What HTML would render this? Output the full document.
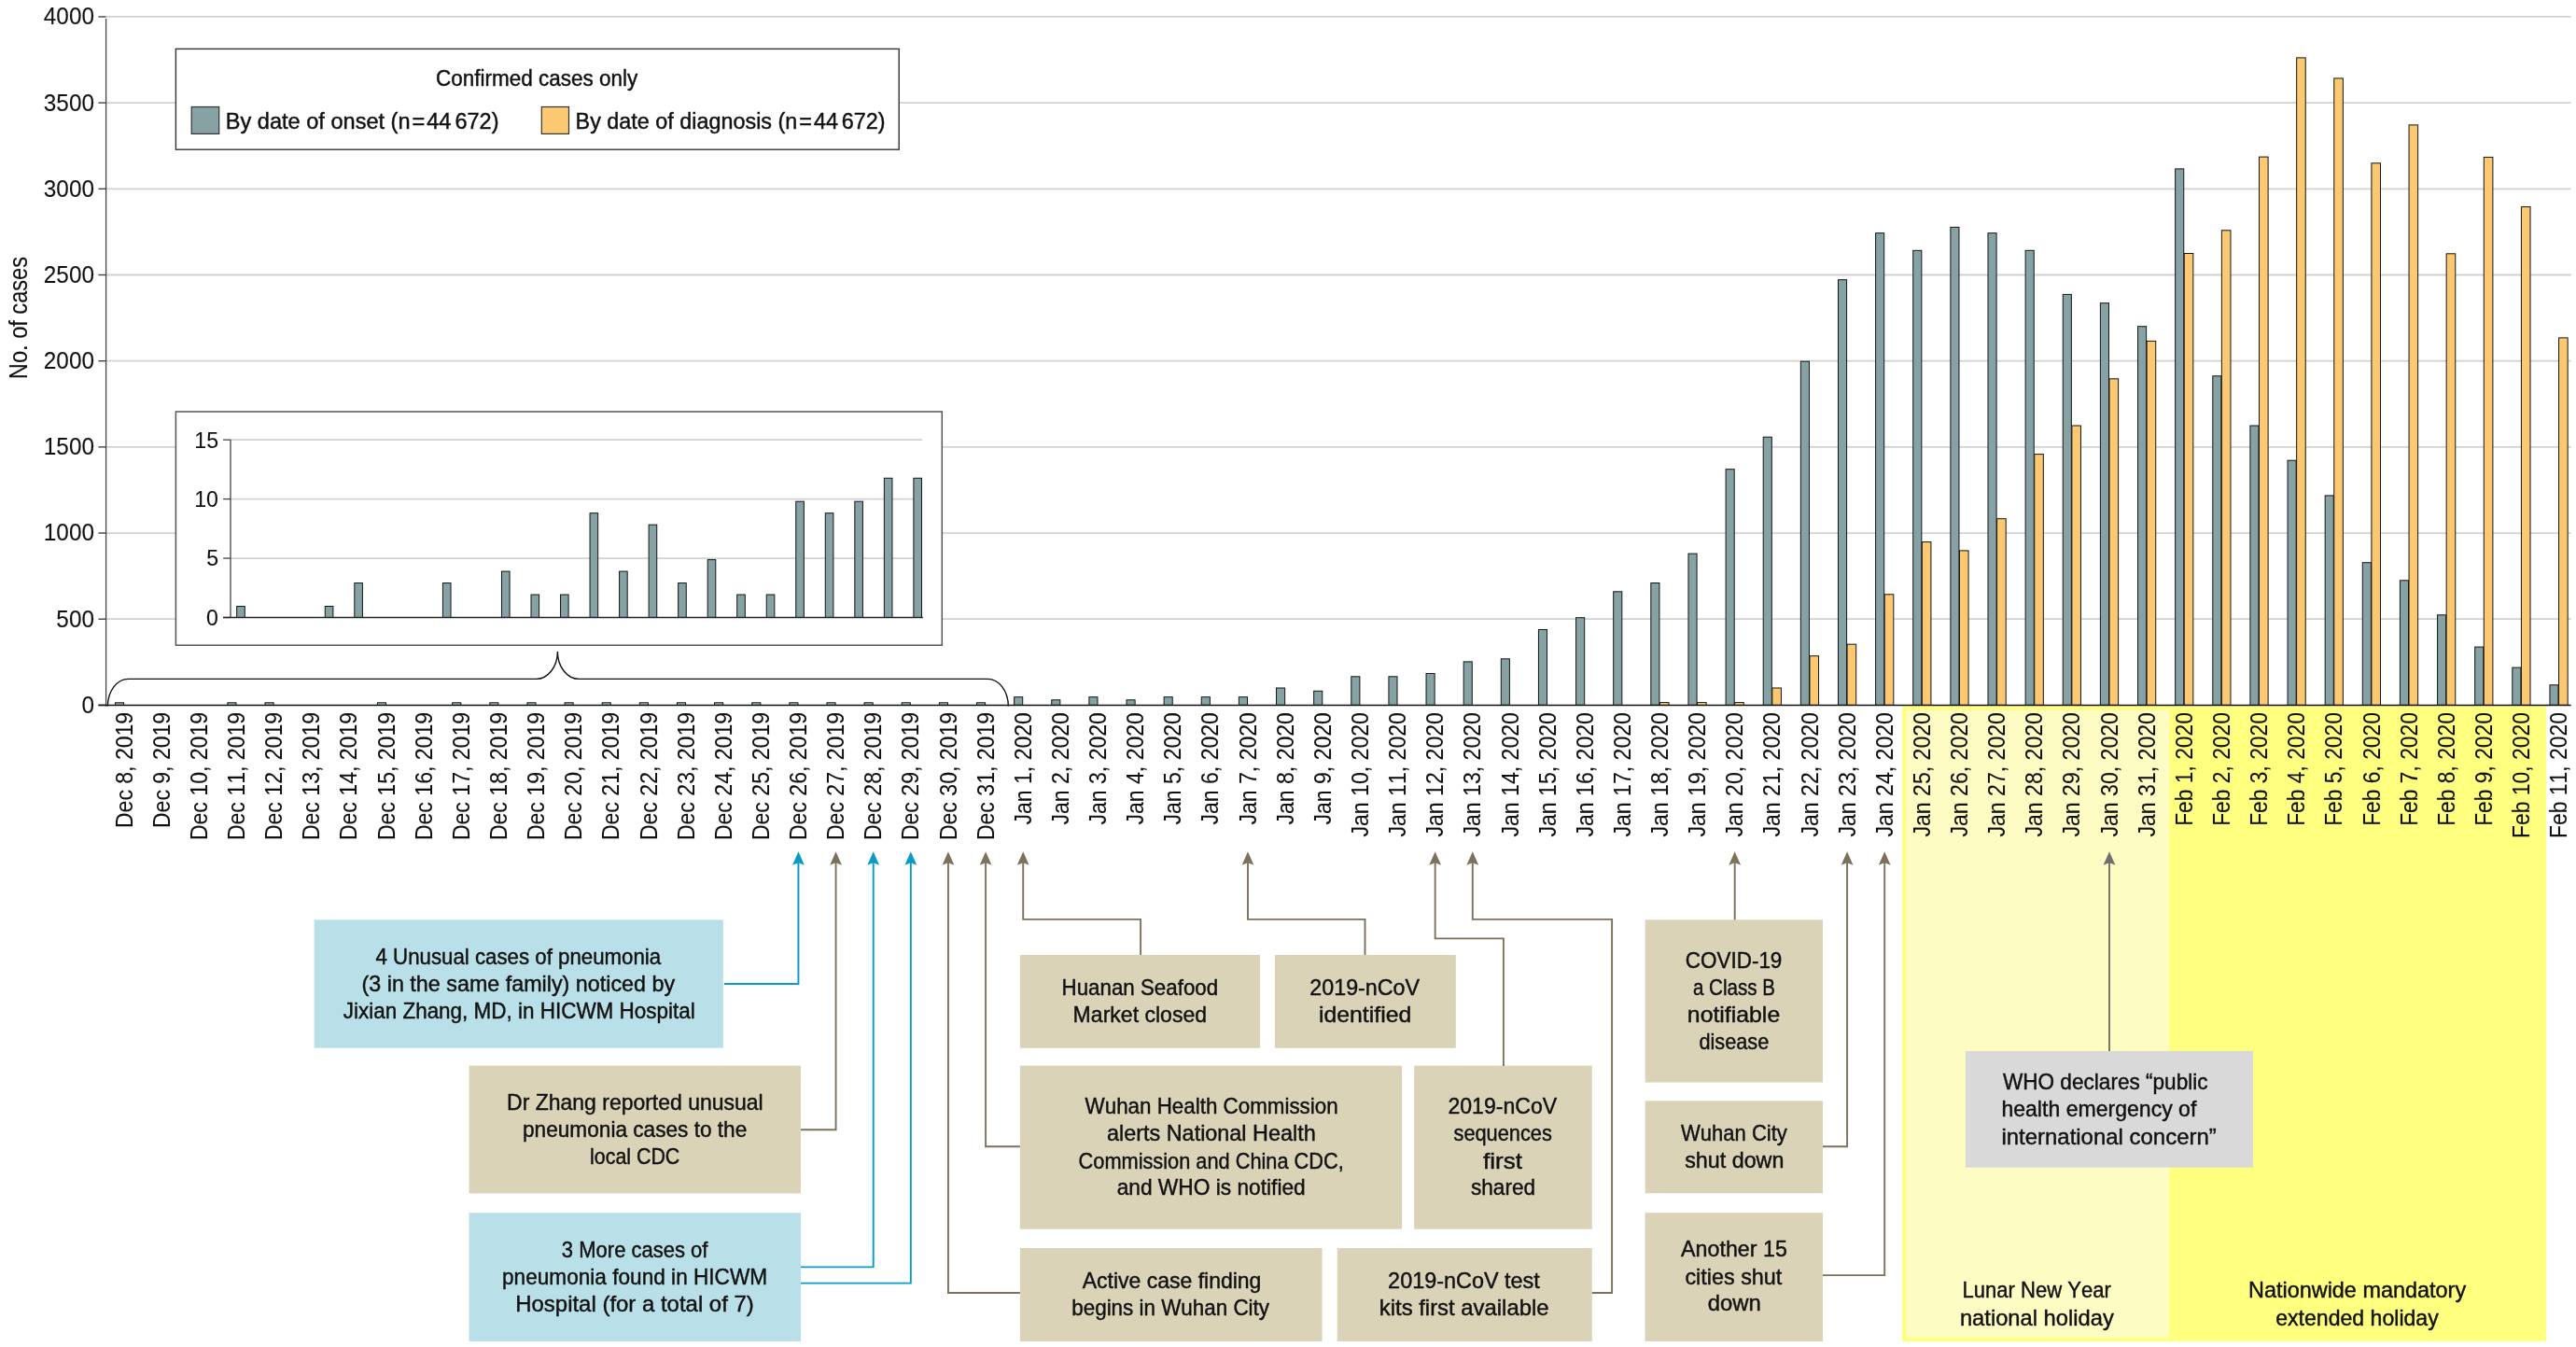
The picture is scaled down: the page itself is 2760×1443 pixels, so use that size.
<!DOCTYPE html><html><head><meta charset="utf-8"><style>html,body{margin:0;padding:0;background:#fff;width:2760px;height:1443px;overflow:hidden}svg{display:block}text{font-family:"Liberation Sans", sans-serif;font-kerning:none;white-space:pre;stroke:#111;stroke-width:0.45px}body{filter:grayscale(0.001)}</style></head><body>
<svg width="2760" height="1443" viewBox="0 0 2760 1443">
<rect x="2038.0" y="756.3" width="690.0" height="680.7" fill="#ffff80"/>
<rect x="2042.3" y="760.9" width="281.9" height="671.7" fill="#fdfcc3"/>
<line x1="113.6" y1="17.96" x2="2754.7" y2="17.96" stroke="#d2d2d2" stroke-width="1.8"/>
<line x1="105.4" y1="17.96" x2="113.6" y2="17.96" stroke="#444" stroke-width="1.4"/>
<text x="46.85" y="26.36" font-size="25.60" textLength="54.10" lengthAdjust="spacingAndGlyphs" fill="#111" style="stroke-width:0.1px">4000</text>
<line x1="113.6" y1="110.14" x2="2754.7" y2="110.14" stroke="#d2d2d2" stroke-width="1.8"/>
<line x1="105.4" y1="110.14" x2="113.6" y2="110.14" stroke="#444" stroke-width="1.4"/>
<text x="46.85" y="118.54" font-size="25.60" textLength="54.10" lengthAdjust="spacingAndGlyphs" fill="#111" style="stroke-width:0.1px">3500</text>
<line x1="113.6" y1="202.32" x2="2754.7" y2="202.32" stroke="#d2d2d2" stroke-width="1.8"/>
<line x1="105.4" y1="202.32" x2="113.6" y2="202.32" stroke="#444" stroke-width="1.4"/>
<text x="46.85" y="210.72" font-size="25.60" textLength="54.10" lengthAdjust="spacingAndGlyphs" fill="#111" style="stroke-width:0.1px">3000</text>
<line x1="113.6" y1="294.50" x2="2754.7" y2="294.50" stroke="#d2d2d2" stroke-width="1.8"/>
<line x1="105.4" y1="294.50" x2="113.6" y2="294.50" stroke="#444" stroke-width="1.4"/>
<text x="46.85" y="302.90" font-size="25.60" textLength="54.10" lengthAdjust="spacingAndGlyphs" fill="#111" style="stroke-width:0.1px">2500</text>
<line x1="113.6" y1="386.68" x2="2754.7" y2="386.68" stroke="#d2d2d2" stroke-width="1.8"/>
<line x1="105.4" y1="386.68" x2="113.6" y2="386.68" stroke="#444" stroke-width="1.4"/>
<text x="46.85" y="395.08" font-size="25.60" textLength="54.10" lengthAdjust="spacingAndGlyphs" fill="#111" style="stroke-width:0.1px">2000</text>
<line x1="113.6" y1="478.86" x2="2754.7" y2="478.86" stroke="#d2d2d2" stroke-width="1.8"/>
<line x1="105.4" y1="478.86" x2="113.6" y2="478.86" stroke="#444" stroke-width="1.4"/>
<text x="46.85" y="487.26" font-size="25.60" textLength="54.10" lengthAdjust="spacingAndGlyphs" fill="#111" style="stroke-width:0.1px">1500</text>
<line x1="113.6" y1="571.04" x2="2754.7" y2="571.04" stroke="#d2d2d2" stroke-width="1.8"/>
<line x1="105.4" y1="571.04" x2="113.6" y2="571.04" stroke="#444" stroke-width="1.4"/>
<text x="46.85" y="579.44" font-size="25.60" textLength="54.10" lengthAdjust="spacingAndGlyphs" fill="#111" style="stroke-width:0.1px">1000</text>
<line x1="113.6" y1="663.22" x2="2754.7" y2="663.22" stroke="#d2d2d2" stroke-width="1.8"/>
<line x1="105.4" y1="663.22" x2="113.6" y2="663.22" stroke="#444" stroke-width="1.4"/>
<text x="60.37" y="671.62" font-size="25.60" textLength="40.58" lengthAdjust="spacingAndGlyphs" fill="#111" style="stroke-width:0.1px">500</text>
<line x1="105.4" y1="755.4" x2="113.6" y2="755.4" stroke="#222" stroke-width="1.4"/>
<text x="87.42" y="763.80" font-size="25.60" textLength="13.53" lengthAdjust="spacingAndGlyphs" fill="#111" style="stroke-width:0.1px">0</text>
<text transform="translate(28.80,0) rotate(-90)" x="-406.13" y="0" font-size="27.20" textLength="131.09" lengthAdjust="spacingAndGlyphs" fill="#111" style="stroke-width:0.1px">No. of cases</text>
<rect x="123.50" y="752.80" width="9.10" height="2.60" fill="#a6c4c8" stroke="#151515" stroke-width="1"/>
<rect x="243.89" y="752.80" width="9.10" height="2.60" fill="#a6c4c8" stroke="#151515" stroke-width="1"/>
<rect x="284.02" y="752.80" width="9.10" height="2.60" fill="#a6c4c8" stroke="#151515" stroke-width="1"/>
<rect x="404.41" y="752.80" width="9.10" height="2.60" fill="#a6c4c8" stroke="#151515" stroke-width="1"/>
<rect x="484.67" y="752.80" width="9.10" height="2.60" fill="#a6c4c8" stroke="#151515" stroke-width="1"/>
<rect x="524.80" y="752.80" width="9.10" height="2.60" fill="#a6c4c8" stroke="#151515" stroke-width="1"/>
<rect x="564.93" y="752.80" width="9.10" height="2.60" fill="#a6c4c8" stroke="#151515" stroke-width="1"/>
<rect x="605.06" y="752.80" width="9.10" height="2.60" fill="#a6c4c8" stroke="#151515" stroke-width="1"/>
<rect x="645.19" y="752.80" width="9.10" height="2.60" fill="#a6c4c8" stroke="#151515" stroke-width="1"/>
<rect x="685.32" y="752.80" width="9.10" height="2.60" fill="#a6c4c8" stroke="#151515" stroke-width="1"/>
<rect x="725.45" y="752.80" width="9.10" height="2.60" fill="#a6c4c8" stroke="#151515" stroke-width="1"/>
<rect x="765.58" y="752.80" width="9.10" height="2.60" fill="#a6c4c8" stroke="#151515" stroke-width="1"/>
<rect x="805.71" y="752.80" width="9.10" height="2.60" fill="#a6c4c8" stroke="#151515" stroke-width="1"/>
<rect x="845.84" y="752.80" width="9.10" height="2.60" fill="#a6c4c8" stroke="#151515" stroke-width="1"/>
<rect x="885.97" y="752.80" width="9.10" height="2.60" fill="#a6c4c8" stroke="#151515" stroke-width="1"/>
<rect x="926.10" y="752.80" width="9.10" height="2.60" fill="#a6c4c8" stroke="#151515" stroke-width="1"/>
<rect x="966.23" y="752.80" width="9.10" height="2.60" fill="#a6c4c8" stroke="#151515" stroke-width="1"/>
<rect x="1006.36" y="752.80" width="9.10" height="2.60" fill="#a6c4c8" stroke="#151515" stroke-width="1"/>
<rect x="1046.49" y="752.80" width="9.10" height="2.60" fill="#a6c4c8" stroke="#151515" stroke-width="1"/>
<rect x="1086.62" y="746.70" width="9.10" height="8.70" fill="#86a2a5" stroke="#151515" stroke-width="1"/>
<rect x="1126.75" y="749.80" width="9.10" height="5.60" fill="#86a2a5" stroke="#151515" stroke-width="1"/>
<rect x="1166.88" y="746.70" width="9.10" height="8.70" fill="#86a2a5" stroke="#151515" stroke-width="1"/>
<rect x="1207.01" y="749.80" width="9.10" height="5.60" fill="#86a2a5" stroke="#151515" stroke-width="1"/>
<rect x="1247.14" y="746.70" width="9.10" height="8.70" fill="#86a2a5" stroke="#151515" stroke-width="1"/>
<rect x="1287.27" y="746.70" width="9.10" height="8.70" fill="#86a2a5" stroke="#151515" stroke-width="1"/>
<rect x="1327.40" y="746.70" width="9.10" height="8.70" fill="#86a2a5" stroke="#151515" stroke-width="1"/>
<rect x="1367.53" y="737.00" width="9.10" height="18.40" fill="#86a2a5" stroke="#151515" stroke-width="1"/>
<rect x="1407.66" y="740.30" width="9.10" height="15.10" fill="#86a2a5" stroke="#151515" stroke-width="1"/>
<rect x="1447.79" y="724.80" width="9.10" height="30.60" fill="#86a2a5" stroke="#151515" stroke-width="1"/>
<rect x="1487.92" y="724.80" width="9.10" height="30.60" fill="#86a2a5" stroke="#151515" stroke-width="1"/>
<rect x="1528.05" y="721.50" width="9.10" height="33.90" fill="#86a2a5" stroke="#151515" stroke-width="1"/>
<rect x="1568.18" y="708.90" width="9.10" height="46.50" fill="#86a2a5" stroke="#151515" stroke-width="1"/>
<rect x="1608.31" y="705.80" width="9.10" height="49.60" fill="#86a2a5" stroke="#151515" stroke-width="1"/>
<rect x="1648.44" y="674.50" width="9.10" height="80.90" fill="#86a2a5" stroke="#151515" stroke-width="1"/>
<rect x="1688.57" y="661.70" width="9.10" height="93.70" fill="#86a2a5" stroke="#151515" stroke-width="1"/>
<rect x="1728.70" y="633.80" width="9.10" height="121.60" fill="#86a2a5" stroke="#151515" stroke-width="1"/>
<rect x="1768.83" y="624.50" width="9.10" height="130.90" fill="#86a2a5" stroke="#151515" stroke-width="1"/>
<rect x="1778.43" y="752.60" width="9.60" height="2.80" fill="#ffdc8c" stroke="#151515" stroke-width="1"/>
<rect x="1808.96" y="593.10" width="9.10" height="162.30" fill="#86a2a5" stroke="#151515" stroke-width="1"/>
<rect x="1818.56" y="752.60" width="9.60" height="2.80" fill="#ffdc8c" stroke="#151515" stroke-width="1"/>
<rect x="1849.09" y="502.70" width="9.10" height="252.70" fill="#86a2a5" stroke="#151515" stroke-width="1"/>
<rect x="1858.69" y="752.60" width="9.60" height="2.80" fill="#ffdc8c" stroke="#151515" stroke-width="1"/>
<rect x="1889.22" y="468.20" width="9.10" height="287.20" fill="#86a2a5" stroke="#151515" stroke-width="1"/>
<rect x="1898.82" y="737.00" width="9.60" height="18.40" fill="#fdc872" stroke="#151515" stroke-width="1"/>
<rect x="1929.35" y="387.20" width="9.10" height="368.20" fill="#86a2a5" stroke="#151515" stroke-width="1"/>
<rect x="1938.95" y="702.70" width="9.60" height="52.70" fill="#fdc872" stroke="#151515" stroke-width="1"/>
<rect x="1969.48" y="299.70" width="9.10" height="455.70" fill="#86a2a5" stroke="#151515" stroke-width="1"/>
<rect x="1979.08" y="690.20" width="9.60" height="65.20" fill="#fdc872" stroke="#151515" stroke-width="1"/>
<rect x="2009.61" y="249.70" width="9.10" height="505.70" fill="#86a2a5" stroke="#151515" stroke-width="1"/>
<rect x="2019.21" y="636.80" width="9.60" height="118.60" fill="#fdc872" stroke="#151515" stroke-width="1"/>
<rect x="2049.74" y="268.30" width="9.10" height="487.10" fill="#86a2a5" stroke="#151515" stroke-width="1"/>
<rect x="2059.34" y="580.60" width="9.60" height="174.80" fill="#fdc872" stroke="#151515" stroke-width="1"/>
<rect x="2089.87" y="243.40" width="9.10" height="512.00" fill="#86a2a5" stroke="#151515" stroke-width="1"/>
<rect x="2099.47" y="589.90" width="9.60" height="165.50" fill="#fdc872" stroke="#151515" stroke-width="1"/>
<rect x="2130.00" y="249.70" width="9.10" height="505.70" fill="#86a2a5" stroke="#151515" stroke-width="1"/>
<rect x="2139.60" y="555.70" width="9.60" height="199.70" fill="#fdc872" stroke="#151515" stroke-width="1"/>
<rect x="2170.13" y="268.30" width="9.10" height="487.10" fill="#86a2a5" stroke="#151515" stroke-width="1"/>
<rect x="2179.73" y="486.60" width="9.60" height="268.80" fill="#fdc872" stroke="#151515" stroke-width="1"/>
<rect x="2210.26" y="315.40" width="9.10" height="440.00" fill="#86a2a5" stroke="#151515" stroke-width="1"/>
<rect x="2219.86" y="456.00" width="9.60" height="299.40" fill="#fdc872" stroke="#151515" stroke-width="1"/>
<rect x="2250.39" y="324.70" width="9.10" height="430.70" fill="#86a2a5" stroke="#151515" stroke-width="1"/>
<rect x="2259.99" y="405.80" width="9.60" height="349.60" fill="#fdc872" stroke="#151515" stroke-width="1"/>
<rect x="2290.52" y="349.70" width="9.10" height="405.70" fill="#86a2a5" stroke="#151515" stroke-width="1"/>
<rect x="2300.12" y="365.40" width="9.60" height="390.00" fill="#fdc872" stroke="#151515" stroke-width="1"/>
<rect x="2330.65" y="180.90" width="9.10" height="574.50" fill="#86a2a5" stroke="#151515" stroke-width="1"/>
<rect x="2340.25" y="271.50" width="9.60" height="483.90" fill="#fdc872" stroke="#151515" stroke-width="1"/>
<rect x="2370.78" y="402.80" width="9.10" height="352.60" fill="#86a2a5" stroke="#151515" stroke-width="1"/>
<rect x="2380.38" y="246.80" width="9.60" height="508.60" fill="#fdc872" stroke="#151515" stroke-width="1"/>
<rect x="2410.91" y="456.00" width="9.10" height="299.40" fill="#86a2a5" stroke="#151515" stroke-width="1"/>
<rect x="2420.51" y="168.10" width="9.60" height="587.30" fill="#fdc872" stroke="#151515" stroke-width="1"/>
<rect x="2451.04" y="493.20" width="9.10" height="262.20" fill="#86a2a5" stroke="#151515" stroke-width="1"/>
<rect x="2460.64" y="61.90" width="9.60" height="693.50" fill="#fdc872" stroke="#151515" stroke-width="1"/>
<rect x="2491.17" y="530.90" width="9.10" height="224.50" fill="#86a2a5" stroke="#151515" stroke-width="1"/>
<rect x="2500.77" y="83.90" width="9.60" height="671.50" fill="#fdc872" stroke="#151515" stroke-width="1"/>
<rect x="2531.30" y="602.70" width="9.10" height="152.70" fill="#86a2a5" stroke="#151515" stroke-width="1"/>
<rect x="2540.90" y="174.80" width="9.60" height="580.60" fill="#fdc872" stroke="#151515" stroke-width="1"/>
<rect x="2571.43" y="621.80" width="9.10" height="133.60" fill="#86a2a5" stroke="#151515" stroke-width="1"/>
<rect x="2581.03" y="133.90" width="9.60" height="621.50" fill="#fdc872" stroke="#151515" stroke-width="1"/>
<rect x="2611.56" y="658.80" width="9.10" height="96.60" fill="#86a2a5" stroke="#151515" stroke-width="1"/>
<rect x="2621.16" y="271.80" width="9.60" height="483.60" fill="#fdc872" stroke="#151515" stroke-width="1"/>
<rect x="2651.69" y="693.10" width="9.10" height="62.30" fill="#86a2a5" stroke="#151515" stroke-width="1"/>
<rect x="2661.29" y="168.40" width="9.60" height="587.00" fill="#fdc872" stroke="#151515" stroke-width="1"/>
<rect x="2691.82" y="715.10" width="9.10" height="40.30" fill="#86a2a5" stroke="#151515" stroke-width="1"/>
<rect x="2701.42" y="221.60" width="9.60" height="533.80" fill="#fdc872" stroke="#151515" stroke-width="1"/>
<rect x="2731.95" y="733.80" width="9.10" height="21.60" fill="#86a2a5" stroke="#151515" stroke-width="1"/>
<rect x="2741.55" y="361.90" width="9.60" height="393.50" fill="#fdc872" stroke="#151515" stroke-width="1"/>
<line x1="113.6" y1="20" x2="113.6" y2="756.4" stroke="#444" stroke-width="1.3"/>
<line x1="105.6" y1="755.4" x2="2754.6" y2="755.4" stroke="#111" stroke-width="1.5"/>
<text transform="translate(141.70,0) rotate(-90)" x="-887.04" y="0" font-size="26.00" textLength="124.13" lengthAdjust="spacingAndGlyphs" fill="#111" style="stroke-width:0.1px">Dec 8, 2019</text>
<text transform="translate(181.83,0) rotate(-90)" x="-887.04" y="0" font-size="26.00" textLength="124.13" lengthAdjust="spacingAndGlyphs" fill="#111" style="stroke-width:0.1px">Dec 9, 2019</text>
<text transform="translate(221.96,0) rotate(-90)" x="-900.11" y="0" font-size="26.00" textLength="137.20" lengthAdjust="spacingAndGlyphs" fill="#111" style="stroke-width:0.1px">Dec 10, 2019</text>
<text transform="translate(262.09,0) rotate(-90)" x="-900.11" y="0" font-size="26.00" textLength="137.20" lengthAdjust="spacingAndGlyphs" fill="#111" style="stroke-width:0.1px">Dec 11, 2019</text>
<text transform="translate(302.22,0) rotate(-90)" x="-900.11" y="0" font-size="26.00" textLength="137.20" lengthAdjust="spacingAndGlyphs" fill="#111" style="stroke-width:0.1px">Dec 12, 2019</text>
<text transform="translate(342.35,0) rotate(-90)" x="-900.11" y="0" font-size="26.00" textLength="137.20" lengthAdjust="spacingAndGlyphs" fill="#111" style="stroke-width:0.1px">Dec 13, 2019</text>
<text transform="translate(382.48,0) rotate(-90)" x="-900.11" y="0" font-size="26.00" textLength="137.20" lengthAdjust="spacingAndGlyphs" fill="#111" style="stroke-width:0.1px">Dec 14, 2019</text>
<text transform="translate(422.61,0) rotate(-90)" x="-900.11" y="0" font-size="26.00" textLength="137.20" lengthAdjust="spacingAndGlyphs" fill="#111" style="stroke-width:0.1px">Dec 15, 2019</text>
<text transform="translate(462.74,0) rotate(-90)" x="-900.11" y="0" font-size="26.00" textLength="137.20" lengthAdjust="spacingAndGlyphs" fill="#111" style="stroke-width:0.1px">Dec 16, 2019</text>
<text transform="translate(502.87,0) rotate(-90)" x="-900.11" y="0" font-size="26.00" textLength="137.20" lengthAdjust="spacingAndGlyphs" fill="#111" style="stroke-width:0.1px">Dec 17, 2019</text>
<text transform="translate(543.00,0) rotate(-90)" x="-900.11" y="0" font-size="26.00" textLength="137.20" lengthAdjust="spacingAndGlyphs" fill="#111" style="stroke-width:0.1px">Dec 18, 2019</text>
<text transform="translate(583.13,0) rotate(-90)" x="-900.11" y="0" font-size="26.00" textLength="137.20" lengthAdjust="spacingAndGlyphs" fill="#111" style="stroke-width:0.1px">Dec 19, 2019</text>
<text transform="translate(623.26,0) rotate(-90)" x="-900.11" y="0" font-size="26.00" textLength="137.20" lengthAdjust="spacingAndGlyphs" fill="#111" style="stroke-width:0.1px">Dec 20, 2019</text>
<text transform="translate(663.39,0) rotate(-90)" x="-900.11" y="0" font-size="26.00" textLength="137.20" lengthAdjust="spacingAndGlyphs" fill="#111" style="stroke-width:0.1px">Dec 21, 2019</text>
<text transform="translate(703.52,0) rotate(-90)" x="-900.11" y="0" font-size="26.00" textLength="137.20" lengthAdjust="spacingAndGlyphs" fill="#111" style="stroke-width:0.1px">Dec 22, 2019</text>
<text transform="translate(743.65,0) rotate(-90)" x="-900.11" y="0" font-size="26.00" textLength="137.20" lengthAdjust="spacingAndGlyphs" fill="#111" style="stroke-width:0.1px">Dec 23, 2019</text>
<text transform="translate(783.78,0) rotate(-90)" x="-900.11" y="0" font-size="26.00" textLength="137.20" lengthAdjust="spacingAndGlyphs" fill="#111" style="stroke-width:0.1px">Dec 24, 2019</text>
<text transform="translate(823.91,0) rotate(-90)" x="-900.11" y="0" font-size="26.00" textLength="137.20" lengthAdjust="spacingAndGlyphs" fill="#111" style="stroke-width:0.1px">Dec 25, 2019</text>
<text transform="translate(864.04,0) rotate(-90)" x="-900.11" y="0" font-size="26.00" textLength="137.20" lengthAdjust="spacingAndGlyphs" fill="#111" style="stroke-width:0.1px">Dec 26, 2019</text>
<text transform="translate(904.17,0) rotate(-90)" x="-900.11" y="0" font-size="26.00" textLength="137.20" lengthAdjust="spacingAndGlyphs" fill="#111" style="stroke-width:0.1px">Dec 27, 2019</text>
<text transform="translate(944.30,0) rotate(-90)" x="-900.11" y="0" font-size="26.00" textLength="137.20" lengthAdjust="spacingAndGlyphs" fill="#111" style="stroke-width:0.1px">Dec 28, 2019</text>
<text transform="translate(984.43,0) rotate(-90)" x="-900.11" y="0" font-size="26.00" textLength="137.20" lengthAdjust="spacingAndGlyphs" fill="#111" style="stroke-width:0.1px">Dec 29, 2019</text>
<text transform="translate(1024.56,0) rotate(-90)" x="-900.11" y="0" font-size="26.00" textLength="137.20" lengthAdjust="spacingAndGlyphs" fill="#111" style="stroke-width:0.1px">Dec 30, 2019</text>
<text transform="translate(1064.69,0) rotate(-90)" x="-900.11" y="0" font-size="26.00" textLength="137.20" lengthAdjust="spacingAndGlyphs" fill="#111" style="stroke-width:0.1px">Dec 31, 2019</text>
<text transform="translate(1104.82,0) rotate(-90)" x="-883.49" y="0" font-size="26.00" textLength="120.39" lengthAdjust="spacingAndGlyphs" fill="#111" style="stroke-width:0.1px">Jan 1, 2020</text>
<text transform="translate(1144.95,0) rotate(-90)" x="-883.49" y="0" font-size="26.00" textLength="120.39" lengthAdjust="spacingAndGlyphs" fill="#111" style="stroke-width:0.1px">Jan 2, 2020</text>
<text transform="translate(1185.08,0) rotate(-90)" x="-883.49" y="0" font-size="26.00" textLength="120.39" lengthAdjust="spacingAndGlyphs" fill="#111" style="stroke-width:0.1px">Jan 3, 2020</text>
<text transform="translate(1225.21,0) rotate(-90)" x="-883.49" y="0" font-size="26.00" textLength="120.39" lengthAdjust="spacingAndGlyphs" fill="#111" style="stroke-width:0.1px">Jan 4, 2020</text>
<text transform="translate(1265.34,0) rotate(-90)" x="-883.49" y="0" font-size="26.00" textLength="120.39" lengthAdjust="spacingAndGlyphs" fill="#111" style="stroke-width:0.1px">Jan 5, 2020</text>
<text transform="translate(1305.47,0) rotate(-90)" x="-883.49" y="0" font-size="26.00" textLength="120.39" lengthAdjust="spacingAndGlyphs" fill="#111" style="stroke-width:0.1px">Jan 6, 2020</text>
<text transform="translate(1345.60,0) rotate(-90)" x="-883.49" y="0" font-size="26.00" textLength="120.39" lengthAdjust="spacingAndGlyphs" fill="#111" style="stroke-width:0.1px">Jan 7, 2020</text>
<text transform="translate(1385.73,0) rotate(-90)" x="-883.49" y="0" font-size="26.00" textLength="120.39" lengthAdjust="spacingAndGlyphs" fill="#111" style="stroke-width:0.1px">Jan 8, 2020</text>
<text transform="translate(1425.86,0) rotate(-90)" x="-883.49" y="0" font-size="26.00" textLength="120.39" lengthAdjust="spacingAndGlyphs" fill="#111" style="stroke-width:0.1px">Jan 9, 2020</text>
<text transform="translate(1465.99,0) rotate(-90)" x="-896.56" y="0" font-size="26.00" textLength="133.46" lengthAdjust="spacingAndGlyphs" fill="#111" style="stroke-width:0.1px">Jan 10, 2020</text>
<text transform="translate(1506.12,0) rotate(-90)" x="-896.56" y="0" font-size="26.00" textLength="133.46" lengthAdjust="spacingAndGlyphs" fill="#111" style="stroke-width:0.1px">Jan 11, 2020</text>
<text transform="translate(1546.25,0) rotate(-90)" x="-896.56" y="0" font-size="26.00" textLength="133.46" lengthAdjust="spacingAndGlyphs" fill="#111" style="stroke-width:0.1px">Jan 12, 2020</text>
<text transform="translate(1586.38,0) rotate(-90)" x="-896.56" y="0" font-size="26.00" textLength="133.46" lengthAdjust="spacingAndGlyphs" fill="#111" style="stroke-width:0.1px">Jan 13, 2020</text>
<text transform="translate(1626.51,0) rotate(-90)" x="-896.56" y="0" font-size="26.00" textLength="133.46" lengthAdjust="spacingAndGlyphs" fill="#111" style="stroke-width:0.1px">Jan 14, 2020</text>
<text transform="translate(1666.64,0) rotate(-90)" x="-896.56" y="0" font-size="26.00" textLength="133.46" lengthAdjust="spacingAndGlyphs" fill="#111" style="stroke-width:0.1px">Jan 15, 2020</text>
<text transform="translate(1706.77,0) rotate(-90)" x="-896.56" y="0" font-size="26.00" textLength="133.46" lengthAdjust="spacingAndGlyphs" fill="#111" style="stroke-width:0.1px">Jan 16, 2020</text>
<text transform="translate(1746.90,0) rotate(-90)" x="-896.56" y="0" font-size="26.00" textLength="133.46" lengthAdjust="spacingAndGlyphs" fill="#111" style="stroke-width:0.1px">Jan 17, 2020</text>
<text transform="translate(1787.03,0) rotate(-90)" x="-896.56" y="0" font-size="26.00" textLength="133.46" lengthAdjust="spacingAndGlyphs" fill="#111" style="stroke-width:0.1px">Jan 18, 2020</text>
<text transform="translate(1827.16,0) rotate(-90)" x="-896.56" y="0" font-size="26.00" textLength="133.46" lengthAdjust="spacingAndGlyphs" fill="#111" style="stroke-width:0.1px">Jan 19, 2020</text>
<text transform="translate(1867.29,0) rotate(-90)" x="-896.56" y="0" font-size="26.00" textLength="133.46" lengthAdjust="spacingAndGlyphs" fill="#111" style="stroke-width:0.1px">Jan 20, 2020</text>
<text transform="translate(1907.42,0) rotate(-90)" x="-896.56" y="0" font-size="26.00" textLength="133.46" lengthAdjust="spacingAndGlyphs" fill="#111" style="stroke-width:0.1px">Jan 21, 2020</text>
<text transform="translate(1947.55,0) rotate(-90)" x="-896.56" y="0" font-size="26.00" textLength="133.46" lengthAdjust="spacingAndGlyphs" fill="#111" style="stroke-width:0.1px">Jan 22, 2020</text>
<text transform="translate(1987.68,0) rotate(-90)" x="-896.56" y="0" font-size="26.00" textLength="133.46" lengthAdjust="spacingAndGlyphs" fill="#111" style="stroke-width:0.1px">Jan 23, 2020</text>
<text transform="translate(2027.81,0) rotate(-90)" x="-896.56" y="0" font-size="26.00" textLength="133.46" lengthAdjust="spacingAndGlyphs" fill="#111" style="stroke-width:0.1px">Jan 24, 2020</text>
<text transform="translate(2067.94,0) rotate(-90)" x="-896.56" y="0" font-size="26.00" textLength="133.46" lengthAdjust="spacingAndGlyphs" fill="#111" style="stroke-width:0.1px">Jan 25, 2020</text>
<text transform="translate(2108.07,0) rotate(-90)" x="-896.56" y="0" font-size="26.00" textLength="133.46" lengthAdjust="spacingAndGlyphs" fill="#111" style="stroke-width:0.1px">Jan 26, 2020</text>
<text transform="translate(2148.20,0) rotate(-90)" x="-896.56" y="0" font-size="26.00" textLength="133.46" lengthAdjust="spacingAndGlyphs" fill="#111" style="stroke-width:0.1px">Jan 27, 2020</text>
<text transform="translate(2188.33,0) rotate(-90)" x="-896.56" y="0" font-size="26.00" textLength="133.46" lengthAdjust="spacingAndGlyphs" fill="#111" style="stroke-width:0.1px">Jan 28, 2020</text>
<text transform="translate(2228.46,0) rotate(-90)" x="-896.56" y="0" font-size="26.00" textLength="133.46" lengthAdjust="spacingAndGlyphs" fill="#111" style="stroke-width:0.1px">Jan 29, 2020</text>
<text transform="translate(2268.59,0) rotate(-90)" x="-896.56" y="0" font-size="26.00" textLength="133.46" lengthAdjust="spacingAndGlyphs" fill="#111" style="stroke-width:0.1px">Jan 30, 2020</text>
<text transform="translate(2308.72,0) rotate(-90)" x="-896.56" y="0" font-size="26.00" textLength="133.46" lengthAdjust="spacingAndGlyphs" fill="#111" style="stroke-width:0.1px">Jan 31, 2020</text>
<text transform="translate(2348.85,0) rotate(-90)" x="-884.85" y="0" font-size="26.00" textLength="121.74" lengthAdjust="spacingAndGlyphs" fill="#111" style="stroke-width:0.1px">Feb 1, 2020</text>
<text transform="translate(2388.98,0) rotate(-90)" x="-884.85" y="0" font-size="26.00" textLength="121.74" lengthAdjust="spacingAndGlyphs" fill="#111" style="stroke-width:0.1px">Feb 2, 2020</text>
<text transform="translate(2429.11,0) rotate(-90)" x="-884.85" y="0" font-size="26.00" textLength="121.74" lengthAdjust="spacingAndGlyphs" fill="#111" style="stroke-width:0.1px">Feb 3, 2020</text>
<text transform="translate(2469.24,0) rotate(-90)" x="-884.85" y="0" font-size="26.00" textLength="121.74" lengthAdjust="spacingAndGlyphs" fill="#111" style="stroke-width:0.1px">Feb 4, 2020</text>
<text transform="translate(2509.37,0) rotate(-90)" x="-884.85" y="0" font-size="26.00" textLength="121.74" lengthAdjust="spacingAndGlyphs" fill="#111" style="stroke-width:0.1px">Feb 5, 2020</text>
<text transform="translate(2549.50,0) rotate(-90)" x="-884.85" y="0" font-size="26.00" textLength="121.74" lengthAdjust="spacingAndGlyphs" fill="#111" style="stroke-width:0.1px">Feb 6, 2020</text>
<text transform="translate(2589.63,0) rotate(-90)" x="-884.85" y="0" font-size="26.00" textLength="121.74" lengthAdjust="spacingAndGlyphs" fill="#111" style="stroke-width:0.1px">Feb 7, 2020</text>
<text transform="translate(2629.76,0) rotate(-90)" x="-884.85" y="0" font-size="26.00" textLength="121.74" lengthAdjust="spacingAndGlyphs" fill="#111" style="stroke-width:0.1px">Feb 8, 2020</text>
<text transform="translate(2669.89,0) rotate(-90)" x="-884.85" y="0" font-size="26.00" textLength="121.74" lengthAdjust="spacingAndGlyphs" fill="#111" style="stroke-width:0.1px">Feb 9, 2020</text>
<text transform="translate(2710.02,0) rotate(-90)" x="-897.92" y="0" font-size="26.00" textLength="134.81" lengthAdjust="spacingAndGlyphs" fill="#111" style="stroke-width:0.1px">Feb 10, 2020</text>
<text transform="translate(2750.15,0) rotate(-90)" x="-897.92" y="0" font-size="26.00" textLength="134.81" lengthAdjust="spacingAndGlyphs" fill="#111" style="stroke-width:0.1px">Feb 11, 2020</text>
<path d="M115.4,756.6 A22.1,29.2 0 0 1 137.5,727.4 H574.5 A23,29.5 0 0 0 597.4,697.9 A23,29.5 0 0 0 620.3,727.4 H1058.2 A22.1,29.2 0 0 1 1080.3,756.6" fill="none" stroke="#111" stroke-width="1.4"/>
<rect x="188.4" y="52.4" width="774.8" height="107.8" fill="#fff" stroke="#333" stroke-width="1.4"/>
<text x="467.06" y="91.90" font-size="24.70" textLength="216.09" lengthAdjust="spacingAndGlyphs" fill="#111">Confirmed cases only</text>
<rect x="205.2" y="114.5" width="29.5" height="28.9" fill="#86a2a5" stroke="#333" stroke-width="1.2"/>
<text x="241.77" y="137.80" font-size="24.70" textLength="292.79" lengthAdjust="spacingAndGlyphs" fill="#111">By date of onset (n = 44 672)</text>
<rect x="580.3" y="114.5" width="29.2" height="28.9" fill="#fdc872" stroke="#333" stroke-width="1.2"/>
<text x="616.58" y="137.80" font-size="24.70" textLength="331.97" lengthAdjust="spacingAndGlyphs" fill="#111">By date of diagnosis (n = 44 672)</text>
<rect x="188.4" y="441.0" width="820.9" height="250.2" fill="#fff" stroke="#555" stroke-width="1.5"/>
<line x1="247" y1="598.05" x2="988.2" y2="598.05" stroke="#d2d2d2" stroke-width="1.8"/>
<line x1="247" y1="534.60" x2="988.2" y2="534.60" stroke="#d2d2d2" stroke-width="1.8"/>
<line x1="247" y1="471.15" x2="988.2" y2="471.15" stroke="#d2d2d2" stroke-width="1.8"/>
<line x1="239.1" y1="661.50" x2="247" y2="661.50" stroke="#444" stroke-width="1.3"/>
<text x="221.11" y="669.90" font-size="24.40" textLength="12.89" lengthAdjust="spacingAndGlyphs" fill="#111" style="stroke-width:0.1px">0</text>
<line x1="239.1" y1="598.05" x2="247" y2="598.05" stroke="#444" stroke-width="1.3"/>
<text x="221.18" y="606.45" font-size="24.40" textLength="12.89" lengthAdjust="spacingAndGlyphs" fill="#111" style="stroke-width:0.1px">5</text>
<line x1="239.1" y1="534.60" x2="247" y2="534.60" stroke="#444" stroke-width="1.3"/>
<text x="208.22" y="543.00" font-size="24.40" textLength="25.78" lengthAdjust="spacingAndGlyphs" fill="#111" style="stroke-width:0.1px">10</text>
<line x1="239.1" y1="471.15" x2="247" y2="471.15" stroke="#444" stroke-width="1.3"/>
<text x="208.29" y="479.55" font-size="24.40" textLength="25.78" lengthAdjust="spacingAndGlyphs" fill="#111" style="stroke-width:0.1px">15</text>
<rect x="253.70" y="649.52" width="8.6" height="11.98" fill="#86a2a5" stroke="#151515" stroke-width="1"/>
<rect x="348.29" y="649.52" width="8.6" height="11.98" fill="#86a2a5" stroke="#151515" stroke-width="1"/>
<rect x="379.82" y="624.56" width="8.6" height="36.94" fill="#86a2a5" stroke="#151515" stroke-width="1"/>
<rect x="474.41" y="624.56" width="8.6" height="36.94" fill="#86a2a5" stroke="#151515" stroke-width="1"/>
<rect x="537.47" y="612.08" width="8.6" height="49.42" fill="#86a2a5" stroke="#151515" stroke-width="1"/>
<rect x="569.00" y="637.04" width="8.6" height="24.46" fill="#86a2a5" stroke="#151515" stroke-width="1"/>
<rect x="600.53" y="637.04" width="8.6" height="24.46" fill="#86a2a5" stroke="#151515" stroke-width="1"/>
<rect x="632.06" y="549.68" width="8.6" height="111.82" fill="#86a2a5" stroke="#151515" stroke-width="1"/>
<rect x="663.59" y="612.08" width="8.6" height="49.42" fill="#86a2a5" stroke="#151515" stroke-width="1"/>
<rect x="695.12" y="562.16" width="8.6" height="99.34" fill="#86a2a5" stroke="#151515" stroke-width="1"/>
<rect x="726.65" y="624.56" width="8.6" height="36.94" fill="#86a2a5" stroke="#151515" stroke-width="1"/>
<rect x="758.18" y="599.60" width="8.6" height="61.90" fill="#86a2a5" stroke="#151515" stroke-width="1"/>
<rect x="789.71" y="637.04" width="8.6" height="24.46" fill="#86a2a5" stroke="#151515" stroke-width="1"/>
<rect x="821.24" y="637.04" width="8.6" height="24.46" fill="#86a2a5" stroke="#151515" stroke-width="1"/>
<rect x="852.77" y="537.20" width="8.6" height="124.30" fill="#86a2a5" stroke="#151515" stroke-width="1"/>
<rect x="884.30" y="549.68" width="8.6" height="111.82" fill="#86a2a5" stroke="#151515" stroke-width="1"/>
<rect x="915.83" y="537.20" width="8.6" height="124.30" fill="#86a2a5" stroke="#151515" stroke-width="1"/>
<rect x="947.36" y="512.24" width="8.6" height="149.26" fill="#86a2a5" stroke="#151515" stroke-width="1"/>
<rect x="978.89" y="512.24" width="8.6" height="149.26" fill="#86a2a5" stroke="#151515" stroke-width="1"/>
<line x1="247" y1="471.1" x2="247" y2="661.5" stroke="#444" stroke-width="1.3"/>
<line x1="239.1" y1="661.5" x2="988.9" y2="661.5" stroke="#222" stroke-width="1.3"/>
<rect x="336.60" y="985.40" width="438.30" height="137.30" fill="#b9e0e8"/>
<text x="402.49" y="1032.80" font-size="24.50" textLength="305.71" lengthAdjust="spacingAndGlyphs" fill="#111">4 Unusual cases of pneumonia</text>
<text x="387.55" y="1062.00" font-size="24.50" textLength="335.59" lengthAdjust="spacingAndGlyphs" fill="#111">(3 in the same family) noticed by</text>
<text x="367.75" y="1091.20" font-size="24.50" textLength="376.95" lengthAdjust="spacingAndGlyphs" fill="#111">Jixian Zhang, MD, in HICWM Hospital</text>
<rect x="502.60" y="1141.60" width="355.40" height="136.80" fill="#dbd3b7"/>
<text x="543.12" y="1189.30" font-size="24.50" textLength="274.52" lengthAdjust="spacingAndGlyphs" fill="#111">Dr Zhang reported unusual</text>
<text x="560.04" y="1218.30" font-size="24.50" textLength="240.26" lengthAdjust="spacingAndGlyphs" fill="#111">pneumonia cases to the</text>
<text x="632.06" y="1247.30" font-size="24.50" textLength="96.26" lengthAdjust="spacingAndGlyphs" fill="#111">local CDC</text>
<rect x="502.60" y="1299.30" width="355.40" height="137.60" fill="#b9e0e8"/>
<text x="601.86" y="1347.00" font-size="24.50" textLength="156.61" lengthAdjust="spacingAndGlyphs" fill="#111">3 More cases of</text>
<text x="538.04" y="1375.90" font-size="24.50" textLength="284.11" lengthAdjust="spacingAndGlyphs" fill="#111">pneumonia found in HICWM</text>
<text x="552.24" y="1405.00" font-size="24.50" textLength="255.55" lengthAdjust="spacingAndGlyphs" fill="#111">Hospital (for a total of 7)</text>
<rect x="1092.90" y="1023.00" width="257.10" height="99.80" fill="#dbd3b7"/>
<text x="1137.57" y="1066.10" font-size="24.50" textLength="167.57" lengthAdjust="spacingAndGlyphs" fill="#111">Huanan Seafood</text>
<text x="1149.61" y="1095.30" font-size="24.50" textLength="143.48" lengthAdjust="spacingAndGlyphs" fill="#111">Market closed</text>
<rect x="1365.90" y="1023.00" width="193.90" height="99.80" fill="#dbd3b7"/>
<text x="1403.33" y="1066.10" font-size="24.50" textLength="117.77" lengthAdjust="spacingAndGlyphs" fill="#111">2019-nCoV</text>
<text x="1412.94" y="1095.30" font-size="24.50" textLength="99.36" lengthAdjust="spacingAndGlyphs" fill="#111">identified</text>
<rect x="1092.90" y="1141.60" width="409.20" height="175.10" fill="#dbd3b7"/>
<text x="1162.60" y="1193.00" font-size="24.50" textLength="271.05" lengthAdjust="spacingAndGlyphs" fill="#111">Wuhan Health Commission</text>
<text x="1186.01" y="1222.10" font-size="24.50" textLength="223.71" lengthAdjust="spacingAndGlyphs" fill="#111">alerts National Health</text>
<text x="1155.60" y="1251.50" font-size="24.50" textLength="284.16" lengthAdjust="spacingAndGlyphs" fill="#111">Commission and China CDC,</text>
<text x="1196.63" y="1280.30" font-size="24.50" textLength="202.13" lengthAdjust="spacingAndGlyphs" fill="#111">and WHO is notified</text>
<rect x="1515.20" y="1141.60" width="190.60" height="175.10" fill="#dbd3b7"/>
<text x="1551.44" y="1193.00" font-size="24.50" textLength="116.76" lengthAdjust="spacingAndGlyphs" fill="#111">2019-nCoV</text>
<text x="1557.49" y="1222.10" font-size="24.50" textLength="105.39" lengthAdjust="spacingAndGlyphs" fill="#111">sequences</text>
<text x="1589.03" y="1251.50" font-size="24.50" textLength="41.96" lengthAdjust="spacingAndGlyphs" fill="#111">first</text>
<text x="1575.97" y="1280.30" font-size="24.50" textLength="69.09" lengthAdjust="spacingAndGlyphs" fill="#111">shared</text>
<rect x="1092.90" y="1337.00" width="323.70" height="99.90" fill="#dbd3b7"/>
<text x="1159.76" y="1380.10" font-size="24.50" textLength="191.63" lengthAdjust="spacingAndGlyphs" fill="#111">Active case finding</text>
<text x="1148.26" y="1409.00" font-size="24.50" textLength="211.79" lengthAdjust="spacingAndGlyphs" fill="#111">begins in Wuhan City</text>
<rect x="1432.70" y="1337.00" width="273.10" height="99.90" fill="#dbd3b7"/>
<text x="1487.12" y="1380.10" font-size="24.50" textLength="162.65" lengthAdjust="spacingAndGlyphs" fill="#111">2019-nCoV test</text>
<text x="1477.79" y="1409.00" font-size="24.50" textLength="181.77" lengthAdjust="spacingAndGlyphs" fill="#111">kits first available</text>
<rect x="1762.70" y="985.30" width="190.30" height="174.30" fill="#dbd3b7"/>
<text x="1805.86" y="1036.80" font-size="24.50" textLength="103.50" lengthAdjust="spacingAndGlyphs" fill="#111">COVID-19</text>
<text x="1813.93" y="1065.80" font-size="24.50" textLength="87.96" lengthAdjust="spacingAndGlyphs" fill="#111">a Class B</text>
<text x="1807.85" y="1094.80" font-size="24.50" textLength="99.35" lengthAdjust="spacingAndGlyphs" fill="#111">notifiable</text>
<text x="1820.49" y="1123.80" font-size="24.50" textLength="74.77" lengthAdjust="spacingAndGlyphs" fill="#111">disease</text>
<rect x="1762.70" y="1179.30" width="190.30" height="99.00" fill="#dbd3b7"/>
<text x="1801.00" y="1222.40" font-size="24.50" textLength="113.84" lengthAdjust="spacingAndGlyphs" fill="#111">Wuhan City</text>
<text x="1805.15" y="1251.30" font-size="24.50" textLength="106.26" lengthAdjust="spacingAndGlyphs" fill="#111">shut down</text>
<rect x="1762.50" y="1299.20" width="190.50" height="137.70" fill="#dbd3b7"/>
<text x="1801.05" y="1346.40" font-size="24.50" textLength="113.82" lengthAdjust="spacingAndGlyphs" fill="#111">Another 15</text>
<text x="1805.41" y="1375.50" font-size="24.50" textLength="103.96" lengthAdjust="spacingAndGlyphs" fill="#111">cities shut</text>
<text x="1829.70" y="1404.20" font-size="24.50" textLength="57.05" lengthAdjust="spacingAndGlyphs" fill="#111">down</text>
<rect x="2106.00" y="1126.00" width="308.00" height="124.70" fill="#d9d9d9"/>
<text x="2145.90" y="1167.20" font-size="24.50" textLength="219.69" lengthAdjust="spacingAndGlyphs" fill="#111">WHO declares “public</text>
<text x="2144.40" y="1196.20" font-size="24.50" textLength="208.97" lengthAdjust="spacingAndGlyphs" fill="#111">health emergency of</text>
<text x="2144.40" y="1225.60" font-size="24.50" textLength="230.38" lengthAdjust="spacingAndGlyphs" fill="#111">international concern”</text>
<text x="2102.59" y="1390.30" font-size="24.50" textLength="159.27" lengthAdjust="spacingAndGlyphs" fill="#111">Lunar New Year</text>
<text x="2099.92" y="1419.70" font-size="24.50" textLength="164.92" lengthAdjust="spacingAndGlyphs" fill="#111">national holiday</text>
<text x="2408.98" y="1390.30" font-size="24.50" textLength="233.17" lengthAdjust="spacingAndGlyphs" fill="#111">Nationwide mandatory</text>
<text x="2438.22" y="1419.70" font-size="24.50" textLength="174.53" lengthAdjust="spacingAndGlyphs" fill="#111">extended holiday</text>
<path d="M776.00,1054.00 L855.44,1054.00 L855.44,922.30" fill="none" stroke="#069cc7" stroke-width="1.9" stroke-linejoin="miter"/>
<path d="M855.44,912.3 L861.84,926.80 L855.44,924.30 L849.04,926.80 Z" fill="#069cc7"/>
<path d="M858.00,1210.30 L895.57,1210.30 L895.57,922.30" fill="none" stroke="#7d715c" stroke-width="1.9" stroke-linejoin="miter"/>
<path d="M895.57,912.3 L901.97,926.80 L895.57,924.30 L889.17,926.80 Z" fill="#7d715c"/>
<path d="M858.00,1357.40 L935.70,1357.40 L935.70,922.30" fill="none" stroke="#069cc7" stroke-width="1.9" stroke-linejoin="miter"/>
<path d="M935.70,912.3 L942.10,926.80 L935.70,924.30 L929.30,926.80 Z" fill="#069cc7"/>
<path d="M858.00,1374.60 L975.83,1374.60 L975.83,922.30" fill="none" stroke="#069cc7" stroke-width="1.9" stroke-linejoin="miter"/>
<path d="M975.83,912.3 L982.23,926.80 L975.83,924.30 L969.43,926.80 Z" fill="#069cc7"/>
<path d="M1092.90,1385.00 L1015.96,1385.00 L1015.96,922.30" fill="none" stroke="#7d715c" stroke-width="1.9" stroke-linejoin="miter"/>
<path d="M1015.96,912.3 L1022.36,926.80 L1015.96,924.30 L1009.56,926.80 Z" fill="#7d715c"/>
<path d="M1092.90,1228.20 L1056.09,1228.20 L1056.09,922.30" fill="none" stroke="#7d715c" stroke-width="1.9" stroke-linejoin="miter"/>
<path d="M1056.09,912.3 L1062.49,926.80 L1056.09,924.30 L1049.69,926.80 Z" fill="#7d715c"/>
<path d="M1222.10,1023.00 L1222.10,984.90 L1096.22,984.90 L1096.22,922.30" fill="none" stroke="#7d715c" stroke-width="1.9" stroke-linejoin="miter"/>
<path d="M1096.22,912.3 L1102.62,926.80 L1096.22,924.30 L1089.82,926.80 Z" fill="#7d715c"/>
<path d="M1462.50,1023.00 L1462.50,984.90 L1337.00,984.90 L1337.00,922.30" fill="none" stroke="#7d715c" stroke-width="1.9" stroke-linejoin="miter"/>
<path d="M1337.00,912.3 L1343.40,926.80 L1337.00,924.30 L1330.60,926.80 Z" fill="#7d715c"/>
<path d="M1610.90,1142.10 L1610.90,1005.40 L1537.65,1005.40 L1537.65,922.30" fill="none" stroke="#7d715c" stroke-width="1.9" stroke-linejoin="miter"/>
<path d="M1537.65,912.3 L1544.05,926.80 L1537.65,924.30 L1531.25,926.80 Z" fill="#7d715c"/>
<path d="M1705.80,1385.00 L1727.10,1385.00 L1727.10,984.90 L1577.78,984.90 L1577.78,922.30" fill="none" stroke="#7d715c" stroke-width="1.9" stroke-linejoin="miter"/>
<path d="M1577.78,912.3 L1584.18,926.80 L1577.78,924.30 L1571.38,926.80 Z" fill="#7d715c"/>
<path d="M1858.69,985.30 L1858.69,922.30" fill="none" stroke="#7d715c" stroke-width="1.9" stroke-linejoin="miter"/>
<path d="M1858.69,912.3 L1865.09,926.80 L1858.69,924.30 L1852.29,926.80 Z" fill="#7d715c"/>
<path d="M1953.00,1228.20 L1979.08,1228.20 L1979.08,922.30" fill="none" stroke="#7d715c" stroke-width="1.9" stroke-linejoin="miter"/>
<path d="M1979.08,912.3 L1985.48,926.80 L1979.08,924.30 L1972.68,926.80 Z" fill="#7d715c"/>
<path d="M1953.00,1366.10 L2019.21,1366.10 L2019.21,922.30" fill="none" stroke="#7d715c" stroke-width="1.9" stroke-linejoin="miter"/>
<path d="M2019.21,912.3 L2025.61,926.80 L2019.21,924.30 L2012.81,926.80 Z" fill="#7d715c"/>
<path d="M2259.99,1126.00 L2259.99,922.30" fill="none" stroke="#6f6f6f" stroke-width="1.9" stroke-linejoin="miter"/>
<path d="M2259.99,912.3 L2266.39,926.80 L2259.99,924.30 L2253.59,926.80 Z" fill="#6f6f6f"/>
</svg></body></html>
